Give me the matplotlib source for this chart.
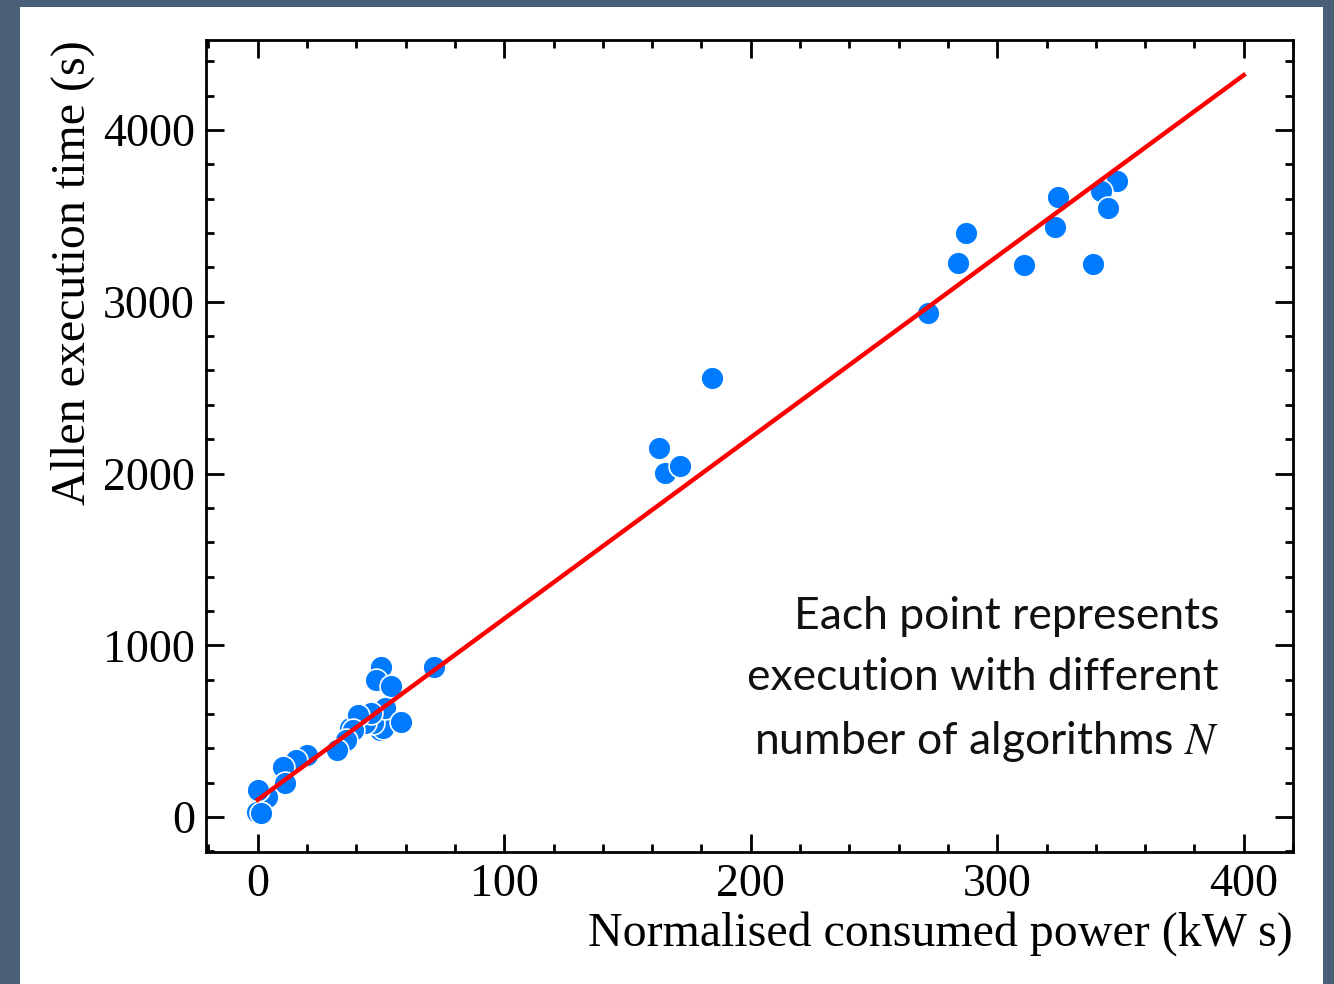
import matplotlib
matplotlib.use("Agg")
import matplotlib.pyplot as plt
from matplotlib.patches import Rectangle
from matplotlib.ticker import MultipleLocator

# measured points (consumed power, execution time)
power = [348.4, 341.9, 344.8, 339.0, 324.5, 323.3, 310.7, 287.5, 283.9, 272.1,
         184.4, 162.8, 165.3, 171.4,
         49.5, 50.8, 46.7, 43.5, 37.4,
         50.2, 47.8, 54.0, 71.6, 51.6, 58.1, 45.8, 40.6, 38.6, 36.0, 32.0,
         19.8, 15.7, 10.3, 11.0, 3.7, 0.1, -0.5, 1.5]
exec_time = [3703, 3645, 3546, 3220, 3610, 3435, 3214, 3400, 3226, 2934,
             2556, 2149, 2003, 2044,
             507, 518, 547, 547, 518,
             873, 798, 763, 875, 635, 553, 605, 594, 507, 448, 390,
             361, 332, 293, 198, 116, 157, 31, 22]

# linear fit line
fit_x = [0, 400]
fit_y = [100, 4320]

plt.rcParams['font.family'] = ['Liberation Serif', 'DejaVu Serif']
plt.rcParams['mathtext.fontset'] = 'stix'

fig = plt.figure(figsize=(13.34, 9.84), dpi=100)
fig.patch.set_facecolor('#4a5f78')
fig.patches.append(Rectangle((20 / 1334, 0), 1303 / 1334, 977 / 984,
                             transform=fig.transFigure, facecolor='white',
                             edgecolor='none', zorder=-10))

ax = fig.add_axes([0.1544, 0.1341, 0.8149, 0.8252])
ax.scatter(power, exec_time, s=270, color='#007bff', edgecolors='white',
           linewidths=1.2, zorder=2)
ax.plot(fit_x, fit_y, color='red', linewidth=3.2, zorder=3)

ax.set_xlim(-21, 420)
ax.set_ylim(-204, 4524)
ax.xaxis.set_major_locator(MultipleLocator(100))
ax.xaxis.set_minor_locator(MultipleLocator(20))
ax.yaxis.set_major_locator(MultipleLocator(1000))
ax.yaxis.set_minor_locator(MultipleLocator(200))
ax.tick_params(which='both', direction='in', top=True, right=True,
               width=2, labelsize=33)
ax.tick_params(which='major', length=13, pad=8)
ax.tick_params(which='minor', length=6)
for sp in ax.spines.values():
    sp.set_linewidth(2)

ax.set_xlabel('Normalised consumed power (kW s)', fontsize=34.5, loc='right',
              labelpad=4)
ax.set_ylabel('Allen execution time (s)', fontsize=34.5, loc='top', labelpad=6)

ax.text(0.932, 0.212,
        'Each point represents\nexecution with different\nnumber of algorithms $N$',
        transform=ax.transAxes, ha='right', va='center', fontsize=32,
        family=['Lato', 'DejaVu Sans'], color='#111111', linespacing=1.6)

fig.savefig('out.png', dpi=100)
